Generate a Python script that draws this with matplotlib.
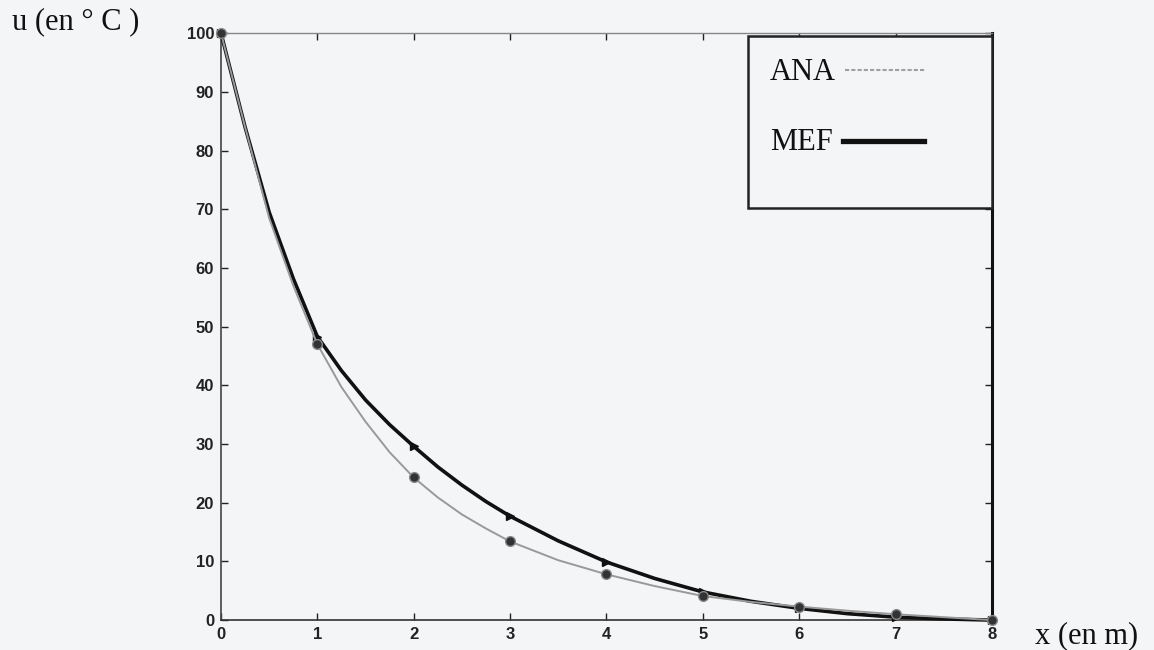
import numpy as np
import matplotlib
matplotlib.use("Agg")
import matplotlib.pyplot as plt
from matplotlib.lines import Line2D
from matplotlib.patches import Rectangle

# values
x_ana = [0, 0.25, 0.5, 0.75, 1, 1.25, 1.5, 1.75, 2, 2.25, 2.5, 2.75, 3, 3.5, 4, 4.5, 5, 5.5, 6, 6.5, 7, 7.5, 8]
u_ana = [100, 84, 68.5, 57, 47, 39.7, 33.8, 28.6, 24.3, 20.9, 18, 15.6, 13.4, 10.2, 7.8, 5.8, 4.1, 3.1, 2.3, 1.6, 1.0, 0.5, 0]

x_mef = [0, 0.25, 0.5, 0.75, 1, 1.25, 1.5, 1.75, 2, 2.25, 2.5, 2.75, 3, 3.5, 4, 4.5, 5, 5.5, 6, 6.5, 7, 7.5, 8]
u_mef = [100, 84, 69.5, 58.2, 48.3, 42.5, 37.5, 33.3, 29.6, 26.1, 23, 20.2, 17.7, 13.5, 9.9, 7.1, 4.8, 3.2, 2.0, 1.1, 0.5, 0.2, 0]

x_ticks = [0, 1, 2, 3, 4, 5, 6, 7, 8]
y_ticks = [0, 10, 20, 30, 40, 50, 60, 70, 80, 90, 100]
labels = ['ANA', 'MEF']

bg = '#f4f5f7'
serif = ['Liberation Serif', 'DejaVu Serif']

fig = plt.figure(figsize=(11.54, 6.5), dpi=100, facecolor=bg)
ax = fig.add_axes([0.1915, 0.046, 0.668, 0.903], facecolor=bg)

# markers only on the nodes (integer x)
nodes_ana = [i for i, v in enumerate(x_ana) if float(v).is_integer()]
nodes_mef = [i for i, v in enumerate(x_mef) if float(v).is_integer()]

ax.plot(x_mef, u_mef, '-', color='#111111', linewidth=2.6, marker='>',
        markevery=nodes_mef, markersize=6, zorder=3, clip_on=False)
ax.plot(x_ana, u_ana, '-', color='#999999', linewidth=1.4, marker='o',
        markevery=nodes_ana, markersize=7, markerfacecolor='#333333',
        markeredgecolor='#888888', zorder=4, clip_on=False)

ax.set_xlim(0, 8)
ax.set_ylim(0, 100)
ax.set_xticks(x_ticks)
ax.set_yticks(y_ticks)
ax.tick_params(direction='in', top=True, right=True, length=5, width=1,
               colors='#222222', pad=5)
for lab in ax.get_xticklabels() + ax.get_yticklabels():
    lab.set_fontfamily('Liberation Sans')
    lab.set_fontweight('bold')
    lab.set_fontsize(12)
    lab.set_color('#222222')

ax.spines['top'].set_color('#888888')
ax.spines['top'].set_linewidth(1.0)
ax.spines['left'].set_color('#444444')
ax.spines['left'].set_linewidth(1.2)
ax.spines['bottom'].set_color('#333333')
ax.spines['bottom'].set_linewidth(1.2)
ax.spines['right'].set_color('#111111')
ax.spines['right'].set_linewidth(2.2)

# legend box drawn by hand (label first, then the line sample)
ax.add_patch(Rectangle((0.6835, 0.702), 0.3165, 0.293, transform=ax.transAxes,
                       facecolor=bg, edgecolor='#222222', linewidth=1.8,
                       zorder=5, clip_on=False))
ax.text(0.712, 0.933, labels[0], transform=ax.transAxes, family=serif,
        fontsize=22, va='center', ha='left', color='#111111', zorder=6)
ax.add_line(Line2D([0.809, 0.913], [0.937, 0.937], transform=ax.transAxes,
                   color='#a0a0a0', linewidth=1.5, linestyle=(0, (2, 1)), zorder=6))
ax.text(0.712, 0.814, labels[1], transform=ax.transAxes, family=serif,
        fontsize=22, va='center', ha='left', color='#111111', zorder=6)
ax.add_line(Line2D([0.807, 0.912], [0.816, 0.816], transform=ax.transAxes,
                   color='#111111', linewidth=3.8, zorder=6))

fig.text(0.010, 0.966, 'u (en ° C )', family=serif, fontsize=22,
         va='center', ha='left', color='#111111')
fig.text(0.897, 0.022, 'x (en m)', family=serif, fontsize=22,
         va='center', ha='left', color='#111111')

fig.savefig('out.png', dpi=100, facecolor=bg)
